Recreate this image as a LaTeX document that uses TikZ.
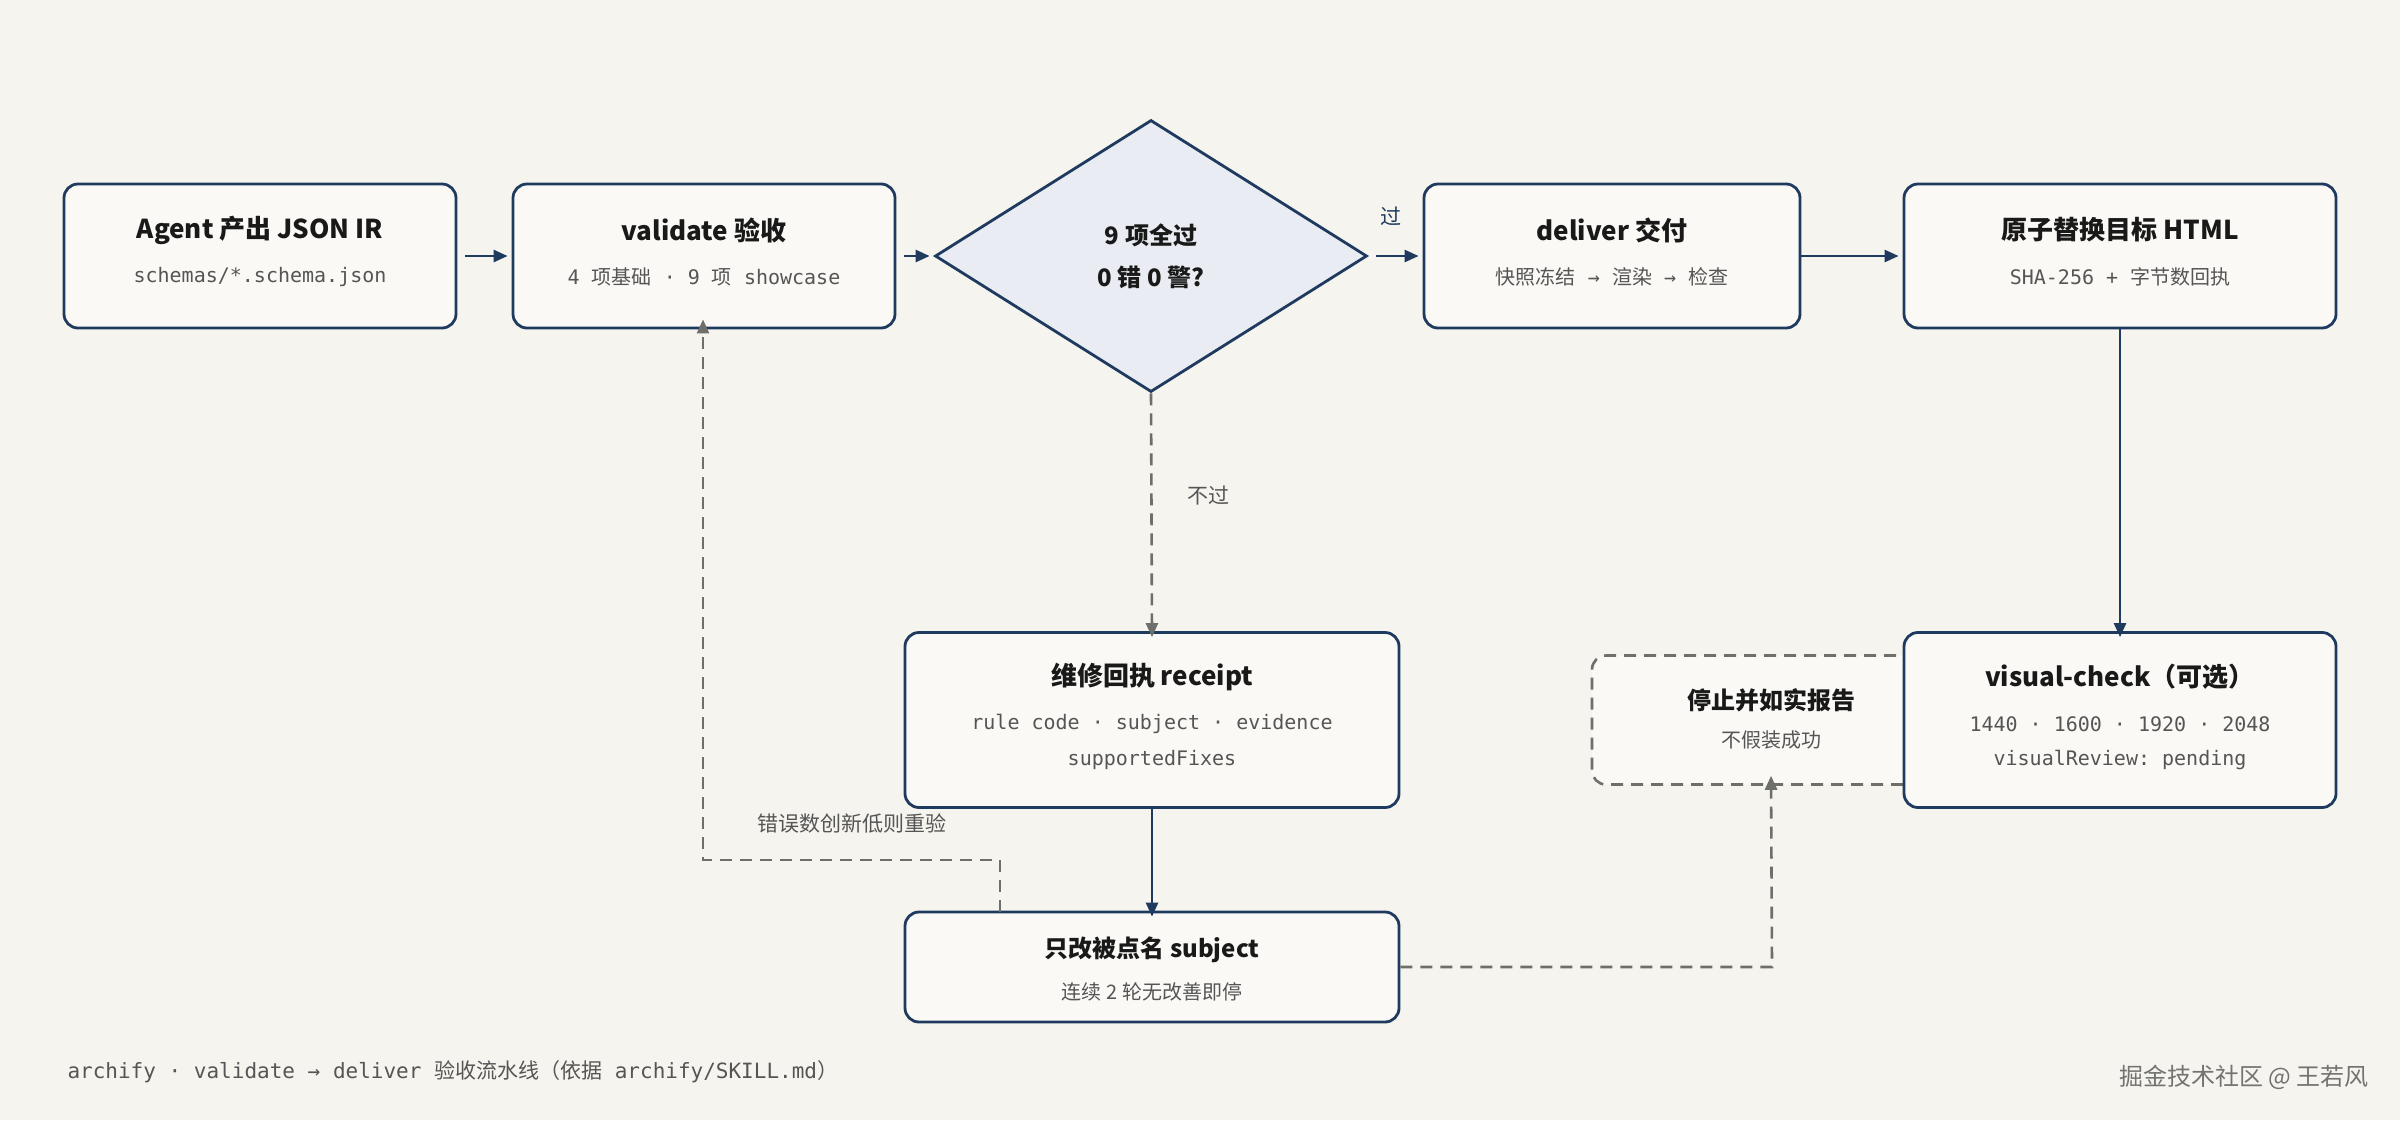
\documentclass[tikz,border=0pt]{standalone}
\usepackage{fontspec}
\setmainfont{Noto Sans CJK SC}
\setmonofont{DejaVu Sans Mono}
\newfontfamily\cjk{Noto Sans CJK SC}
\usetikzlibrary{shapes.geometric,arrows.meta}
\definecolor{bg}{HTML}{F5F4EE}
\definecolor{boxfill}{HTML}{FAF9F5}
\definecolor{navy}{HTML}{1F3A5F}
\definecolor{dfill}{HTML}{E9ECF2}
\definecolor{dgray}{HTML}{6E6E6A}
\definecolor{sub}{HTML}{555555}
\begin{document}
\begin{tikzpicture}[x=1pt,y=-1pt,
  box/.style={draw=navy,line width=2.8pt,fill=boxfill,rounded corners=14pt,align=center,inner sep=0pt},
  ttl/.style={font=\fontsize{26}{30}\selectfont\bfseries,text=black!90},
  subt/.style={font=\fontsize{20}{30}\selectfont\ttfamily,text=sub},
  arr/.style={draw=navy,line width=2.6pt,-{Triangle[length=14pt,width=12pt]}},
  darr/.style={draw=dgray,line width=2.6pt,dash pattern=on 12pt off 8pt,-{Triangle[length=14pt,width=12pt]}},
  lbl/.style={font=\fontsize{21}{24}\selectfont,text=sub}]
\fill[bg] (0,0) rectangle (2400,1120);
\useasboundingbox (0,0) rectangle (2400,1120);
% nodes
\node[box,minimum width=392pt,minimum height=144pt] (A) at (260,256) {};
\node[ttl] at (260,230) {Agent 产出 JSON IR};
\node[subt] at (260,277) {schemas/*.schema.json};
\node[box,minimum width=382pt,minimum height=144pt] (B) at (704,256) {};
\node[ttl] at (704,230) {validate 验收};
\node[subt] at (704,277) {4 {\cjk 项基础} · 9 {\cjk 项} showcase};
\node[draw=navy,line width=2.8pt,fill=dfill,diamond,minimum width=432pt,minimum height=272pt,inner sep=0pt] (D) at (1151,256) {};
\node[ttl,align=center,font=\fontsize{24}{42}\selectfont\bfseries] at (1151,256) {9 项全过\\0 错 0 警?};
\node[box,minimum width=376pt,minimum height=144pt] (E) at (1612,256) {};
\node[ttl] at (1612,230) {deliver 交付};
\node[subt] at (1612,277) {{\cjk 快照冻结} → {\cjk 渲染} → {\cjk 检查}};
\node[box,minimum width=432pt,minimum height=144pt] (F) at (2120,256) {};
\node[ttl] at (2120,230) {原子替换目标 HTML};
\node[subt] at (2120,277) {SHA-256 + {\cjk 字节数回执}};
\node[draw=dgray,line width=2.6pt,dash pattern=on 12pt off 8pt,fill=boxfill,rounded corners=14pt,minimum width=358pt,minimum height=129pt] (S) at (1771,720) {};
\node[ttl,font=\fontsize{24}{28}\selectfont\bfseries] at (1771,700) {停止并如实报告};
\node[lbl,font=\fontsize{20}{24}\selectfont] at (1771,740) {不假装成功};
\node[box,minimum width=432pt,minimum height=175pt] (V) at (2120,720) {};
\node[ttl] at (2120,677) {visual-check（可选）};
\node[subt] at (2120,724) {1440 · 1600 · 1920 · 2048};
\node[subt] at (2120,760) {visualReview: pending};
\node[box,minimum width=494pt,minimum height=175pt] (R) at (1152,720) {};
\node[ttl] at (1152,677) {维修回执 receipt};
\node[subt] at (1152,724) {rule code · subject · evidence};
\node[subt] at (1152,760) {supportedFixes};
\node[box,minimum width=494pt,minimum height=110pt] (X) at (1152,967) {};
\node[ttl,font=\fontsize{24}{28}\selectfont\bfseries] at (1152,950) {只改被点名 subject};
\node[lbl,font=\fontsize{20}{24}\selectfont] at (1152,992) {连续 2 轮无改善即停};
% connectors
\draw[arr] (A.east)++(8,0) -- ([xshift=-4pt]B.west);
\draw[arr] (B.east)++(8,0) -- ([xshift=-4pt]D.west);
\draw[arr] (D.east)++(8,0) -- ([xshift=-4pt]E.west);
\node[lbl,text=navy] at (1391,216) {过};
\draw[arr] (E.east) -- ([xshift=-4pt]F.west);
\draw[arr] (F.south) -- ([yshift=-6pt]V.north);
\draw[darr] (D.south) -- ([yshift=-6pt]R.north);
\node[lbl] at (1208,496) {不过};
\draw[arr] (R.south) -- ([yshift=-6pt]X.north);
\coordinate (f1) at (1000,912);
\draw[darr] (f1) -- (1000,860) -- (703,860) -- ([yshift=10pt]B.south -| 703,0);
\node[lbl] at (852,823) {错误数创新低则重验};
\draw[darr] (X.east) -- (1772,967) -- ([yshift=10pt]S.south);
% footer
\node[anchor=west,font=\fontsize{21}{24}\selectfont\ttfamily,text=sub] (ft) at (64,1072) {archify · validate → deliver {\cjk 验收流水线（依据} archify/SKILL.md{\cjk ）}};
\node[anchor=east,font=\fontsize{24}{28}\selectfont,text=black!55] (wm) at (2372,1077) {掘金技术社区 @ 王若风};
\end{tikzpicture}
\end{document}
